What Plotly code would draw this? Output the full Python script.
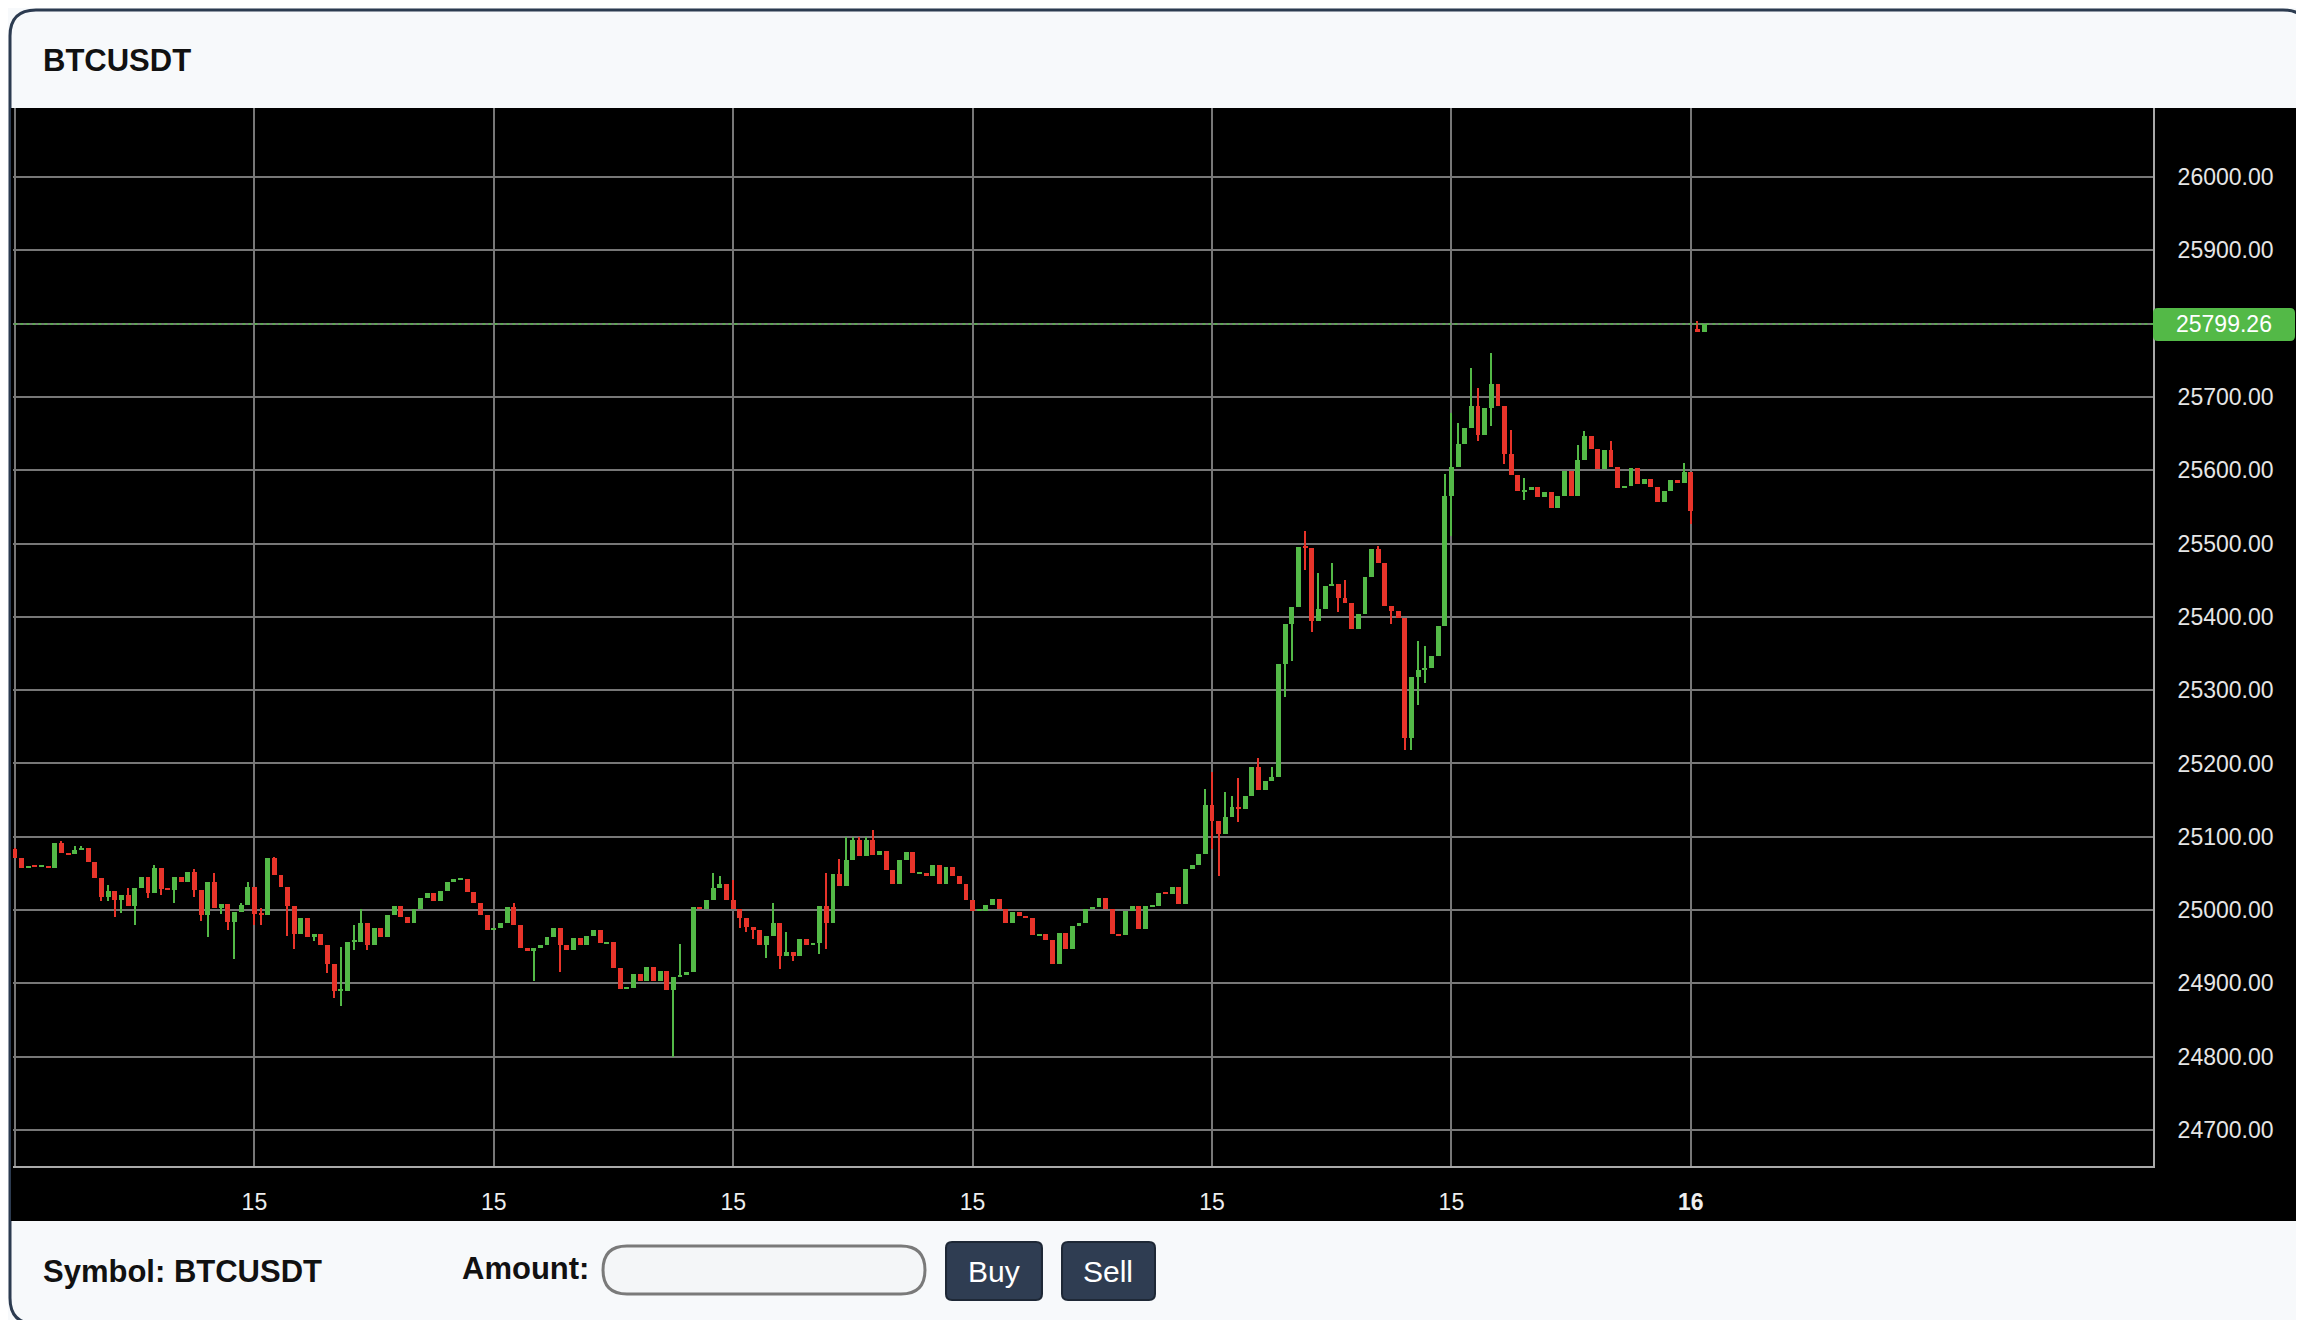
import plotly.graph_objects as go

W, H = 2304, 1320
symbol = "BTCUSDT"
first_open = 25084
closes = [
25071,25058,25060,25059,25060,25058,25091,25078,25076,25082,
25085,25065,25044,25018,25026,25014,25020,25005,25030,25045,
25023,25058,25029,25028,25045,25038,25052,25027,24994,25039,
25003,25009,24984,24998,25007,25031,24995,24994,25071,25048,
25031,25005,24967,24989,24963,24967,24953,24926,24890,24890,
24957,24957,24983,24953,24975,24964,24993,25006,24990,24982,
25002,25016,25024,25013,25026,25039,25042,25043,25025,25010,
24993,24973,24976,24983,25004,24980,24948,24944,24949,24953,
24963,24975,24952,24946,24962,24952,24965,24973,24955,24957,
24921,24893,24894,24913,24904,24922,24904,24917,24891,24909,
24911,24915,25004,25001,25014,
25030,25035,25014,25002,24989,24977,24973,24953,24965,24983,
24938,24943,24938,24960,24953,24955,25005,24983,25049,25033,
25069,25095,25074,25095,25075,25080,25055,25035,25068,25079,
25050,25050,25047,25062,25035,25059,25046,25036,25014,24999,
24999,25007,25015,25002,24983,24998,24992,24989,24966,24968,
24959,24927,24969,24947,24979,24982,25002,25004,25017,25002,
24968,24966,24999,25006,24974,25005,25006,25024,25022,25031,
25008,25056,25062,25076,
25144,25121,25104,25127,25141,25138,25156,25195,25164,25176,
25182,25335,25390,25414,25495,25494,25395,25411,25442,25445,
25426,25419,25384,25404,25455,25493,25473,25415,25408,25399,
25235,25318,25327,25330,25346,25388,
25565,25605,25636,25658,25688,25648,25685,25717,25687,25622,
25594,25571,25573,25577,25563,25570,25548,25565,25599,25565,
25614,25646,25629,25602,25628,25604,25576,25578,25603,25581,
25588,25577,25556,25571,25587,25583,25598,25544,
25789,25799.26]
open_overrides = {253: 25792}
high_marks = {0:25085,6:25092,7:25094,9:25088,10:25087,14:25034,17:25030,21:25062,25:25040,
  27:25056,30:25050,34:25010,35:25038,37:25003,39:25073,49:24950,51:24980,52:25002,75:25010,100:24954,
  105:25050,106:25047,108:25041,114:25010,116:24970,122:25050,124:25070,125:25100,126:25100,
  127:25100,128:25100,129:25109,179:25165,180:25188,182:25161,183:25155,184:25180,187:25208,
  189:25195,194:25517,196:25460,198:25474,200:25450,205:25497,211:25367,212:25360,
  215:25595,216:25678,217:25665,219:25740,220:25712,222:25760,225:25655,227:25590,235:25635,
  236:25653,240:25640,251:25610,253:25804}
low_marks = {13:25012,14:25012,15:24990,16:24996,18:24980,20:25016,22:25020,24:25010,27:25018,
  28:24985,29:24963,31:24995,32:24973,33:24933,36:24980,37:24980,41:24965,42:24947,45:24958,
  47:24914,48:24880,49:24869,51:24945,53:24945,78:24903,82:24916,99:24800,
  109:24975,110:24970,111:24960,113:24935,115:24920,117:24930,121:24940,122:24947,
  180:25083,181:25047,184:25120,191:25290,192:25340,194:25464,195:25380,199:25406,
  207:25390,209:25219,210:25219,211:25280,212:25310,216:25510,220:25640,222:25660,
  224:25608,227:25560,252:25526}
last_price = 25799.26
price_ticks = list(range(24700, 26001, 100))
time_tick_idx = [0, 36, 72, 108, 144, 180, 216, 252]
time_tick_text = ["15", "15", "15", "15", "15", "15", "15", "<b>16</b>"]

GREEN, RED = "#53b947", "#e8342a"
n = len(closes)
opens = [first_open] + closes[:-1]
for k, v in open_overrides.items():
    opens[k] = v
xs = list(range(n))
highs = [max(high_marks.get(i, 0), opens[i], closes[i]) for i in xs]
lows = [min(low_marks.get(i, 1e9), opens[i], closes[i]) for i in xs]
cols = [GREEN if closes[i] >= opens[i] else RED for i in xs]

fig = go.Figure()
fig.add_trace(go.Bar(x=xs, base=lows, y=[max(h - l, 1.2) for h, l in zip(highs, lows)],
                     width=0.2, marker=dict(color=cols, line=dict(width=0)), hoverinfo="skip"))
fig.add_trace(go.Bar(x=xs, base=[min(o, c) for o, c in zip(opens, closes)],
                     y=[max(abs(c - o), 1.3) for o, c in zip(opens, closes)],
                     width=0.74, marker=dict(color=cols, line=dict(width=0)), hoverinfo="skip"))

def px(x): return x / W
def py(y): return 1 - y / H

def rrect(x0, y0, x1, y1, r):
    X = lambda v: f"{px(v):.5f}"
    Y = lambda v: f"{py(v):.5f}"
    return (f"M{X(x0+r)},{Y(y0)} L{X(x1-r)},{Y(y0)} Q{X(x1)},{Y(y0)} {X(x1)},{Y(y0+r)} "
            f"L{X(x1)},{Y(y1-r)} Q{X(x1)},{Y(y1)} {X(x1-r)},{Y(y1)} L{X(x0+r)},{Y(y1)} "
            f"Q{X(x0)},{Y(y1)} {X(x0)},{Y(y1-r)} L{X(x0)},{Y(y0+r)} Q{X(x0)},{Y(y0)} {X(x0+r)},{Y(y0)} Z")

shapes = [
    dict(type="path", xref="paper", yref="paper", path=rrect(2, 2, 2301, 1316, 26),
         fillcolor="#f7f9fb", line=dict(color="#2c3b50", width=3), layer="below"),
    dict(type="rect", xref="paper", yref="paper", x0=px(3), x1=px(2299), y0=py(1213), y1=py(100),
         fillcolor="#000000", line=dict(width=0), layer="below"),
    dict(type="line", xref="x", yref="y", x0=-1, x1=330, y0=last_price, y1=last_price,
         line=dict(color=GREEN, width=1.5, dash="dot")),
    dict(type="path", xref="paper", yref="paper", path=rrect(595, 1238, 917, 1286, 24),
         fillcolor="#f4f6f8", line=dict(color="#7a7a7a", width=3)),
    dict(type="path", xref="paper", yref="paper", path=rrect(938, 1234, 1034, 1292, 6),
         fillcolor="#2f3d52", line=dict(color="#1e2836", width=2)),
    dict(type="path", xref="paper", yref="paper", path=rrect(1054, 1234, 1147, 1292, 6),
         fillcolor="#2f3d52", line=dict(color="#1e2836", width=2)),
    dict(type="path", xref="paper", yref="paper", path=rrect(2145, 300, 2287, 333, 5),
         fillcolor=GREEN, line=dict(width=0)),
]

FONT = "Liberation Sans, Arial, sans-serif"
ann = [
    dict(text=f"<b>{symbol}</b>", x=px(33), y=py(52), xanchor="left", yanchor="middle",
         font=dict(size=31, color="#111", family=FONT)),
    dict(text=f"<b>Symbol: {symbol}</b>", x=px(33), y=py(1263), xanchor="left", yanchor="middle",
         font=dict(size=31, color="#111", family=FONT)),
    dict(text="<b>Amount:</b>", x=px(452), y=py(1260), xanchor="left", yanchor="middle",
         font=dict(size=31, color="#111", family=FONT)),
    dict(text="Buy", x=px(986), y=py(1263), xanchor="center", yanchor="middle",
         font=dict(size=30, color="#fff", family=FONT)),
    dict(text="Sell", x=px(1100), y=py(1263), xanchor="center", yanchor="middle",
         font=dict(size=30, color="#fff", family=FONT)),
    dict(text=f"{last_price:.2f}", x=px(2216), y=py(316), xanchor="center", yanchor="middle",
         font=dict(size=23, color="#fff", family=FONT)),
]
for a in ann:
    a.update(xref="paper", yref="paper", showarrow=False)

fig.update_layout(
    width=W, height=H, margin=dict(l=0, r=0, t=0, b=0),
    paper_bgcolor="#f7f9fb", plot_bgcolor="#000000",
    showlegend=False, barmode="overlay", bargap=0, hovermode=False,
    shapes=shapes, annotations=ann,
    xaxis=dict(domain=[px(5), px(2145)], range=[-0.3, 321.5], tickvals=time_tick_idx,
               ticktext=time_tick_text, showgrid=True, gridcolor="#777", gridwidth=1.5,
               zeroline=False, showline=True, linecolor="#aaa", linewidth=2,
               tickfont=dict(size=23, color="#eee", family=FONT), ticks="", ticklabelstandoff=14),
    yaxis=dict(domain=[py(1158), py(100)], range=[24651, 26094], side="right",
               tickvals=price_ticks, ticktext=[f"{v:.2f}" for v in price_ticks],
               showgrid=True, gridcolor="#777", gridwidth=1.5, zeroline=False,
               showline=True, linecolor="#aaa", linewidth=2,
               tickfont=dict(size=23, color="#e6e6e6", family=FONT), ticks="", ticklabelstandoff=18),
)
fig.write_html("out.html")
